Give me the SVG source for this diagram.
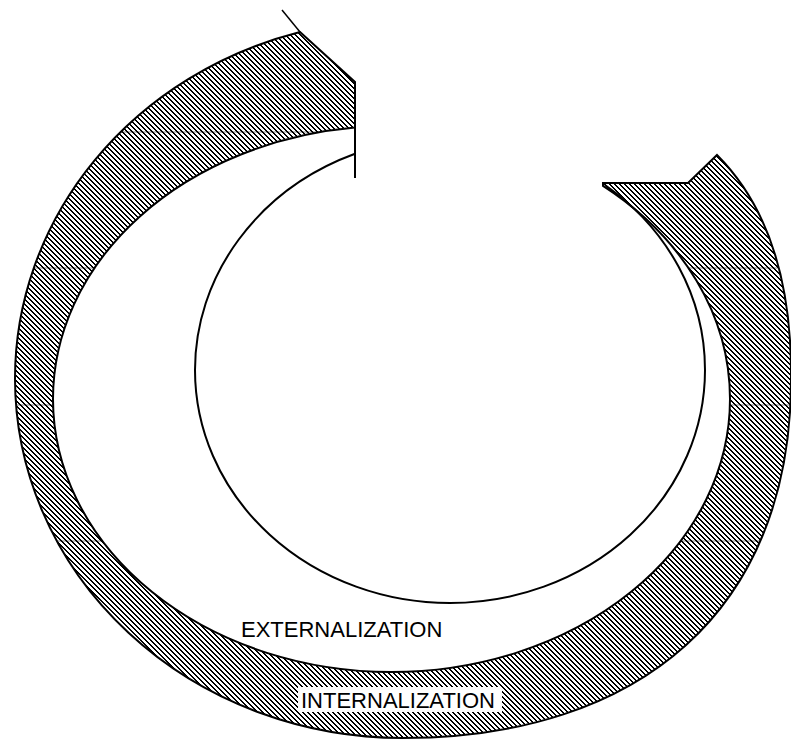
<svg xmlns="http://www.w3.org/2000/svg" width="791" height="739" viewBox="0 0 791 739">
<style>
.edge{fill:none;stroke:#000;stroke-width:2;stroke-linejoin:miter}
.seam{stroke:#000;stroke-width:0.7;stroke-opacity:0.7}
.lbl{font-family:"Liberation Sans",Arial,sans-serif;font-size:22px;fill:#000}
</style>
<defs>
<pattern id="hatch" x="0" y="0" width="5" height="5" patternUnits="userSpaceOnUse">
<rect width="5" height="5" fill="#fff"/>
<g fill="#000" shape-rendering="crispEdges">
<rect x="0" y="0" width="2" height="1"/>
<rect x="1" y="1" width="2" height="1"/>
<rect x="2" y="2" width="2" height="1"/>
<rect x="3" y="3" width="2" height="1"/>
<rect x="4" y="4" width="1" height="1"/>
<rect x="0" y="4" width="1" height="1"/>
</g>
</pattern>
<path id="bandShape" d="M300,32 L355,82 L355,127.6 A338.5,273 0 0,0 53,399 A338.5,273 0 0,0 391.5,672 A338.5,273 0 0,0 730,399 A338.5,273 0 0,0 603,185.9 L603,183 L688,183 L717,155 C772,210 792,290 791,380 C791,610 640,738 402.5,738 A387.5,359.4 0 0,1 15,378.6 A387.5,359.4 0 0,1 300,32 Z"/>
<clipPath id="bandClip"><use href="#bandShape"/></clipPath>
</defs>
<rect width="791" height="739" fill="#fff"/>
<g id="cycle-band">
<use href="#bandShape" fill="url(#hatch)"/>
<g clip-path="url(#bandClip)">
<line class="seam" x1="0" y1="132" x2="791" y2="132"/>
<line class="seam" x1="0" y1="268" x2="791" y2="268"/>
<line class="seam" x1="0" y1="405" x2="791" y2="405"/>
<line class="seam" x1="0" y1="541" x2="791" y2="541"/>
</g>
<use href="#bandShape" class="edge"/>
<line class="edge" x1="282" y1="10" x2="300" y2="32" style="stroke-width:1.5"/>
<line class="edge" x1="355" y1="127" x2="355" y2="178"/>
</g>
<g id="inner-circle">
<path class="edge" d="M355,153.8 A255,233 0 0,0 195,370 A255,233 0 0,0 450,603 A255,233 0 0,0 705,370 A255,233 0 0,0 605,185"/>
</g>
<g id="label-externalization">
<text class="lbl" x="241" y="637">EXTERNALIZATION</text>
</g>
<g id="label-internalization">
<rect x="298" y="687" width="204" height="25" fill="#fff"/>
<text class="lbl" x="301" y="708">INTERNALIZATION</text>
</g>
</svg>
